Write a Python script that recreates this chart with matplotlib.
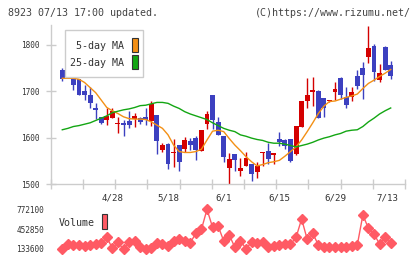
import matplotlib
matplotlib.use("Agg")
import matplotlib.pyplot as plt
from matplotlib.patches import Rectangle
import numpy as np

# ---------------- data ----------------
opens = [1726,1746,1734,1728,1727,1701,1691,1665,1644,1639,1643,1629,1631,1636,1640,1643,1644,1636,1649,1574,
         1586,1567,1584,1576,1593,1600,1572,1629,1692,1634,1604,1535,1565,1529,1539,1544,1526,1567,1571,1563,
         1597,1595,1597,1565,1624,1678,1699,1701,1685,1678,1699,1728,1688,1688,1733,1750,1775,1798,1724,1795,1757]
closes = [1727,1726,1740,1714,1693,1693,1675,1660,1632,1647,1657,1632,1627,1627,1646,1634,1638,1672,1593,1584,
          1543,1568,1548,1595,1584,1573,1617,1651,1637,1606,1559,1553,1552,1535,1557,1522,1539,1570,1554,1567,
          1590,1583,1550,1625,1680,1692,1703,1643,1665,1681,1706,1693,1670,1699,1712,1735,1793,1742,1740,1746,1732]
highs = [1727,1750,1755,1742,1727,1714,1710,1675,1644,1663,1665,1645,1638,1658,1654,1645,1665,1678,1649,1589,
         1589,1596,1584,1602,1600,1603,1617,1658,1692,1645,1604,1567,1565,1557,1570,1544,1548,1570,1588,1567,
         1613,1598,1597,1625,1680,1728,1731,1703,1685,1682,1721,1730,1710,1710,1745,1764,1841,1801,1759,1798,1765]
lows = [1726,1722,1734,1703,1693,1681,1665,1640,1629,1627,1642,1611,1604,1621,1624,1630,1627,1625,1565,1570,
        1532,1537,1529,1570,1573,1552,1572,1618,1618,1606,1548,1501,1529,1518,1539,1507,1514,1539,1544,1543,
        1582,1576,1548,1563,1624,1663,1668,1643,1645,1676,1681,1684,1664,1680,1705,1683,1760,1723,1721,1746,1727]

ma5 = [1728,1728,1728,1726,1719,1708,1697,1681,1665,1658,1652,1645,1641,1640,1640,1639,1634,1627,1620,1606,
       1584,1570,1568,1568,1570,1575,1595,1614,1616,1613,1598,1584,1572,1559,1548,1539,1542,1546,1548,1551,
       1560,1570,1580,1595,1613,1632,1652,1668,1678,1679,1683,1687,1690,1694,1706,1717,1724,1732,1739,1747]
ma25 = [1617,1620,1624,1626,1629,1632,1637,1642,1647,1654,1657,1660,1662,1665,1669,1670,1673,1676,1676,1674,
        1668,1663,1656,1651,1647,1643,1639,1632,1626,1620,1616,1613,1606,1603,1599,1596,1594,1590,1588,1588,
        1586,1583,1580,1583,1586,1590,1595,1599,1602,1606,1609,1614,1616,1617,1624,1634,1642,1651,1658,1664]

volume = [128300,208700,197900,197900,187200,197900,208700,224800,321300,144300,
          240900,128300,251500,267600,160400,128300,155000,230100,214000,187200,
          267600,289100,257000,235400,385600,449900,771600,482100,503500,262300,
          358800,160400,267600,138900,240900,224800,240900,160400,187200,197900,
          208700,208700,321300,616100,289100,385600,197900,171100,160400,171100,
          171100,160400,181800,197900,680400,466000,374800,214000,321300,224800]

date_pos = [10, 20, 30, 40, 50, 59.4]
date_labels = ["4/28", "5/18", "6/1", "6/15", "6/29", "7/13"]
price_ticks = [1500, 1600, 1700, 1800]
vol_ticks = [133600, 452850, 772100]

# ---------------- styling ----------------
RED = "#d40000"
BLUE = "#3c40c0"
ORANGE = "#f39015"
GREEN = "#13a613"
VOLC = "#ff5a64"
GRID = "#cccccc"
TXT = "#333333"
FONT = "DejaVu Sans Mono"
plt.rcParams["font.family"] = FONT

W, H = 420, 259
fig = plt.figure(figsize=(W / 100, H / 100), dpi=100)

def frac_rect(x0, y0, x1, y1):
    return [x0 / W, 1 - y1 / H, (x1 - x0) / W, (y1 - y0) / H]

xlim = (-1.08, 62.57)

# ---------------- main chart ----------------
ax = fig.add_axes(frac_rect(50.7, 25, 405, 184))
n = len(opens)
idx = np.arange(n)
o = np.array(opens, float); c = np.array(closes, float)
hi = np.array(highs, float); lo = np.array(lows, float)
up = c >= o
colors = np.where(up, RED, BLUE)
ax.vlines(idx, lo, hi, colors=colors, linewidth=1, zorder=2)
body_bottom = np.minimum(o, c)
body_h = np.maximum(np.abs(c - o), 1.5)
ax.bar(idx, body_h, bottom=body_bottom, width=0.88, color=colors, linewidth=0, zorder=3)

ma_idx = np.arange(1, n)
ax.plot(ma_idx, ma5, color=ORANGE, lw=1, zorder=4)
ax.plot(ma_idx, ma25, color=GREEN, lw=1, zorder=4)

ax.set_xlim(*xlim)
ax.set_ylim(1500, 1843)
for s in ["top", "right"]:
    ax.spines[s].set_visible(False)
for s in ["left", "bottom"]:
    ax.spines[s].set_color(GRID)
    ax.spines[s].set_linewidth(1)
ax.set_yticks(price_ticks)
ax.set_yticklabels([str(v) for v in price_ticks])
ax.tick_params(axis="y", direction="inout", length=7.2, width=1, color=GRID,
               labelsize=5.6, labelcolor=TXT, pad=4.8)
ax.set_xticks(np.linspace(xlim[0], xlim[1], 12))
ax.set_xticklabels([])
ax.tick_params(axis="x", which="major", direction="inout", length=6.5, width=1, color=GRID)
ax.set_xticks(date_pos, minor=True)
ax.set_xticklabels(date_labels, minor=True)
ax.tick_params(axis="x", which="minor", length=0, labelsize=6.6, labelcolor=TXT, pad=7.0)
ax.patch.set_alpha(0)

# legend box (main)
leg = Rectangle((65 / W, 1 - 77.3 / H), (143.3 - 65) / W, (77.3 - 30) / H,
                transform=fig.transFigure, facecolor="white", edgecolor=GRID, lw=1, zorder=10)
fig.add_artist(leg)
fig.text(124.5 / W, 1 - 46 / H, "5-day MA", ha="right", va="center", fontsize=7.2, color=TXT, zorder=11)
fig.text(124.5 / W, 1 - 63.3 / H, "25-day MA", ha="right", va="center", fontsize=7.2, color=TXT, zorder=11)
fig.add_artist(Rectangle((131.5 / W, 1 - 51.7 / H), 6 / W, 14 / H, transform=fig.transFigure,
                         facecolor=ORANGE, edgecolor="#333333", lw=0.8, zorder=11))
fig.add_artist(Rectangle((131.5 / W, 1 - 69.3 / H), 6 / W, 14 / H, transform=fig.transFigure,
                         facecolor=GREEN, edgecolor="#333333", lw=0.8, zorder=11))

# ---------------- volume ----------------
per_px = (772100 - 133600) / (249 - 209.3)
vtop = 772100 + (209.3 - 200) * per_px
vbot = 133600 - (255 - 249) * per_px
axv = fig.add_axes(frac_rect(50.7, 200, 405, 255))
vidx = np.arange(1, n)
axv.plot(vidx, volume, color=VOLC, lw=1, marker="D", markersize=4.8,
         markerfacecolor=VOLC, markeredgecolor=VOLC, zorder=3)
axv.set_xlim(*xlim)
axv.set_ylim(vbot, vtop)
for s in axv.spines.values():
    s.set_visible(False)
axv.set_xticks([])
axv.set_yticks(vol_ticks)
axv.set_yticklabels([str(v) for v in vol_ticks])
axv.tick_params(axis="y", length=0, labelsize=5.6, labelcolor=TXT, pad=4.8)
axv.patch.set_alpha(0)
fig.text(58.3 / W, 1 - 222.7 / H, "Volume", ha="left", va="center", fontsize=7.2, color=TXT)
fig.add_artist(Rectangle((101.5 / W, 1 - 229 / H), 6 / W, 15.5 / H, transform=fig.transFigure,
                         facecolor=VOLC, edgecolor="#333333", lw=0.8))

# ---------------- header ----------------
fig.text(8 / W, 1 - 12.5 / H, "8923 07/13 17:00 updated.", ha="left", va="center",
         fontsize=7.2, color="#444444")
fig.text(411 / W, 1 - 12.5 / H, "(C)https://www.rizumu.net/", ha="right", va="center",
         fontsize=7.2, color="#444444")

fig.savefig("out.png", dpi=100)
